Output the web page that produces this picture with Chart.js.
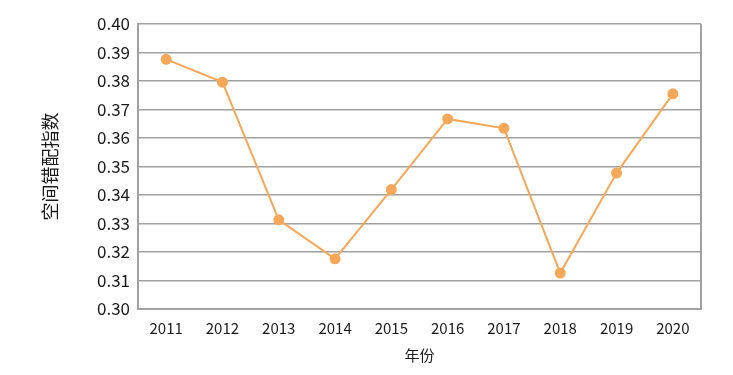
<!DOCTYPE html>
<html><head><meta charset="utf-8">
<script src="https://cdn.jsdelivr.net/npm/chart.js@4"></script>
<style>html,body{margin:0;padding:0;background:#fff}#w{width:733px;height:375px}</style>
</head><body><div id="w"><canvas id="c"></canvas></div>
<script>
const years = ['2011','2012','2013','2014','2015','2016','2017','2018','2019','2020'];
const mismatchIndex = [0.3876,0.3796,0.3313,0.3176,0.3419,0.3667,0.3634,0.3126,0.3477,0.3755];
const yTicks = [0.30,0.31,0.32,0.33,0.34,0.35,0.36,0.37,0.38,0.39,0.40];
const FONT = '"Noto Sans CJK SC","Noto Sans",sans-serif';
const TXT = '#1a1a1a';
const GRID = '#a0a0a0';
const LINE = '#F7A758';

new Chart(document.getElementById('c'), {
  type: 'line',
  data: { labels: years, datasets: [{ data: mismatchIndex, borderColor: LINE, backgroundColor: LINE,
    borderWidth: 2, pointRadius: 4.5, pointHoverRadius: 4.5, tension: 0 }] },
  options: {
    responsive: true, maintainAspectRatio: false, animation: false,
    layout: { padding: { top: 24, right: 32, left: 39, bottom: 11 } },
    plugins: { legend: { display: false }, tooltip: { enabled: false } },
    scales: {
      x: {
        offset: true,
        grid: { display: false, drawTicks: false },
        border: { display: true, color: GRID, width: 2 },
        ticks: { color: TXT, font: { family: FONT, size: 15 }, padding: 10, maxRotation: 0 },
        title: { display: true, text: '年份', color: TXT, font: { family: FONT, size: 15 }, padding: { top: 0, bottom: 0 } },
        afterFit: s => { s.height = 55; }
      },
      y: {
        min: 0.30, max: 0.40,
        afterBuildTicks: s => { s.ticks = yTicks.map(v => ({ value: v })); },
        grid: { color: GRID, lineWidth: 1.5, drawTicks: false },
        border: { display: true, color: GRID, width: 2 },
        ticks: { color: TXT, font: { family: FONT, size: 17 }, padding: 8, callback: v => v.toFixed(2) },
        title: { display: true, text: '空间错配指数', color: TXT, font: { family: FONT, size: 18 }, padding: { top: 0, bottom: 0 } },
        afterFit: s => { s.width = 99; }
      }
    }
  },
  plugins: [{
    id: 'rightBorder',
    afterDraw(chart) {
      const { ctx, chartArea: a } = chart;
      ctx.save(); ctx.strokeStyle = GRID; ctx.lineWidth = 2;
      ctx.beginPath(); ctx.moveTo(a.right, a.top); ctx.lineTo(a.right, a.bottom); ctx.stroke();
      ctx.restore();
    }
  }]
});
</script></body></html>
